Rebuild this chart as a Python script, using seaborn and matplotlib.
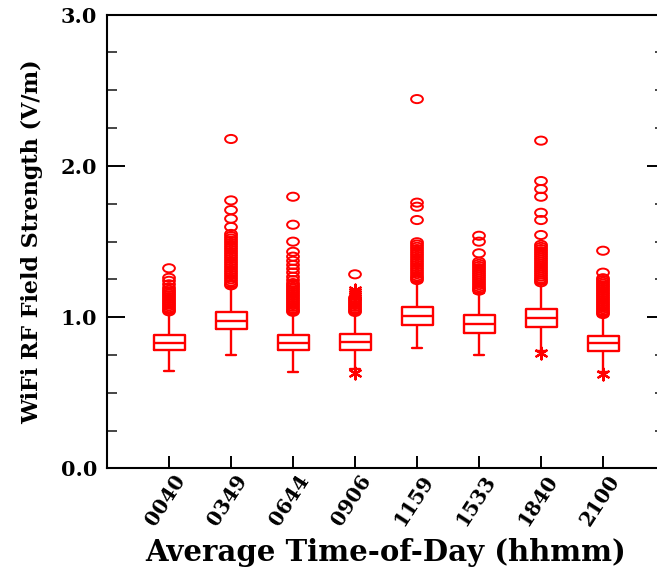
import numpy as np
import pandas as pd
import matplotlib
matplotlib.use("Agg")
import matplotlib.pyplot as plt
from matplotlib.path import Path
from matplotlib.transforms import Affine2D, ScaledTranslation
from matplotlib.ticker import MultipleLocator, FormatStrFormatter
import seaborn as sns

# Measurement sessions (average time of day, hhmm)
times = ["0040", "0349", "0644", "0906", "1159", "1533", "1840", "2100"]

# Box summaries of the WiFi RF field strength (V/m)
whisker_low = [0.646, 0.749, 0.639, 0.655, 0.798, 0.749, 0.775, 0.640]
q1 = [0.783, 0.919, 0.782, 0.782, 0.948, 0.897, 0.937, 0.778]
median = [0.831, 0.976, 0.827, 0.833, 1.007, 0.952, 0.992, 0.827]
q3 = [0.882, 1.036, 0.882, 0.886, 1.069, 1.014, 1.052, 0.877]
whisker_high = [1.030, 1.200, 1.025, 1.025, 1.234, 1.160, 1.220, 1.010]

# Outliers (open circles)
outliers_0040 = [1.323, 1.260, 1.240, 1.217, 1.195, 1.180, 1.168, 1.156, 1.144,
                 1.132, 1.120, 1.108, 1.096, 1.084, 1.072, 1.060, 1.048, 1.038]
outliers_0349 = [2.178, 1.772, 1.708, 1.651, 1.596, 1.550, 1.535, 1.520, 1.505,
                 1.490, 1.475, 1.460, 1.445, 1.430, 1.415, 1.400, 1.385, 1.370,
                 1.355, 1.340, 1.325, 1.310, 1.295, 1.280, 1.265, 1.250, 1.235,
                 1.220, 1.210]
outliers_0644 = [1.796, 1.611, 1.499, 1.432, 1.400, 1.372, 1.345, 1.320, 1.295,
                 1.267, 1.245, 1.225, 1.212, 1.200, 1.188, 1.176, 1.164, 1.152,
                 1.140, 1.128, 1.116, 1.104, 1.092, 1.080, 1.068, 1.056, 1.044,
                 1.035]
outliers_0906 = [1.283, 1.128, 1.116, 1.104, 1.092, 1.080, 1.068, 1.056, 1.044,
                 1.034]
outliers_1159 = [2.442, 1.757, 1.730, 1.642, 1.495, 1.480, 1.465, 1.450, 1.435,
                 1.420, 1.405, 1.390, 1.375, 1.360, 1.345, 1.330, 1.315, 1.300,
                 1.285, 1.270, 1.258, 1.245]
outliers_1533 = [1.538, 1.499, 1.422, 1.366, 1.352, 1.338, 1.324, 1.310, 1.296,
                 1.282, 1.268, 1.254, 1.240, 1.226, 1.212, 1.198, 1.186, 1.175]
outliers_1840 = [2.167, 1.900, 1.847, 1.796, 1.690, 1.642, 1.543, 1.478, 1.464,
                 1.450, 1.436, 1.422, 1.408, 1.394, 1.380, 1.366, 1.352, 1.338,
                 1.324, 1.310, 1.296, 1.282, 1.268, 1.254, 1.242, 1.230]
outliers_2100 = [1.439, 1.294, 1.257, 1.245, 1.233, 1.221, 1.209, 1.197, 1.185,
                 1.173, 1.161, 1.149, 1.137, 1.125, 1.113, 1.101, 1.089, 1.077,
                 1.065, 1.053, 1.041, 1.030, 1.020]

# Extreme values (asterisks)
extremes_0906 = [1.180, 1.165, 1.150, 1.140, 0.633]
extremes_1840 = [0.761]
extremes_2100 = [0.622]

outliers = {
    "0040": outliers_0040, "0349": outliers_0349, "0644": outliers_0644,
    "0906": outliers_0906, "1159": outliers_1159, "1533": outliers_1533,
    "1840": outliers_1840, "2100": outliers_2100,
}
extremes = {"0906": extremes_0906, "1840": extremes_1840, "2100": extremes_2100}

RED = "#ff0000"

sns.set_theme(style="ticks")
plt.rcParams["font.family"] = ["DejaVu Serif"]
plt.rcParams["font.weight"] = "bold"

# Five values per session reproduce the box statistics exactly
box_rows = []
for i, t in enumerate(times):
    for v in (whisker_low[i], q1[i], median[i], q3[i], whisker_high[i]):
        box_rows.append({"time": t, "value": v})
box_df = pd.DataFrame(box_rows)

out_df = pd.DataFrame([{"time": t, "value": v}
                       for t in times for v in outliers[t]])
ext_df = pd.DataFrame([{"time": t, "value": v}
                       for t in extremes for v in extremes[t]])

fig = plt.figure(figsize=(6.57, 5.68), dpi=100)
ax = fig.add_axes([107 / 657, (568 - 468.3) / 568, 558 / 657, 453.6 / 568])

sns.boxplot(data=box_df, x="time", y="value", order=times, whis=(0, 100),
            fill=False, color=RED, linewidth=1.7, width=0.5,
            showfliers=False, ax=ax)

# Open elliptical markers for outliers
ellipse = Path.unit_circle().transformed(Affine2D().scale(1.45, 1.0))
sns.stripplot(data=out_df, x="time", y="value", order=times, jitter=False,
              marker=ellipse, size=8.5, color=RED, facecolor="none",
              edgecolor=RED, linewidth=1.4, ax=ax, zorder=4)
sns.stripplot(data=ext_df, x="time", y="value", order=times, jitter=False,
              marker=(6, 2, 0), size=8.5, color=RED, edgecolor=RED,
              linewidth=1.6, ax=ax, zorder=4)

# Narrow whisker caps
for line in ax.lines:
    xd = np.asarray(line.get_xdata(), dtype=float)
    yd = np.asarray(line.get_ydata(), dtype=float)
    if len(xd) == 2 and yd[0] == yd[1] and not np.isclose(abs(xd[1] - xd[0]), 0.5):
        c = xd.mean()
        line.set_xdata([c - 0.085, c + 0.085])

ax.set_xlim(-1, 8)
ax.set_ylim(0, 3)
ax.yaxis.set_major_locator(MultipleLocator(1.0))
ax.yaxis.set_minor_locator(MultipleLocator(0.25))
ax.yaxis.set_major_formatter(FormatStrFormatter("%.1f"))

for s in ax.spines.values():
    s.set_visible(True)
    s.set_color("black")
    s.set_linewidth(1.5)

ax.tick_params(axis="y", which="major", direction="in", length=13, width=1.4,
               left=True, right=True, labelsize=15, pad=7, colors="black")
ax.tick_params(axis="y", which="minor", direction="in", length=7, width=1.2,
               left=True, right=True)
ax.tick_params(axis="x", which="major", direction="in", length=9, width=1.4,
               bottom=True, top=False, labelsize=14.5, pad=6, colors="black")
shift = ScaledTranslation(12 / 100, 0, fig.dpi_scale_trans)
for lab in ax.get_xticklabels():
    lab.set_rotation(57)
    lab.set_ha("right")
    lab.set_va("center")
    lab.set_rotation_mode("anchor")
    lab.set_transform(lab.get_transform() + shift)
for lab in ax.get_yticklabels() + ax.get_xticklabels():
    lab.set_fontweight("bold")

ax.set_xlabel("Average Time-of-Day (hhmm)", fontsize=21, fontweight="bold",
              labelpad=6, color="black")
ax.set_ylabel("WiFi RF Field Strength (V/m)", fontsize=16, fontweight="bold",
              labelpad=13, color="black")

fig.savefig("out.png", dpi=100)
